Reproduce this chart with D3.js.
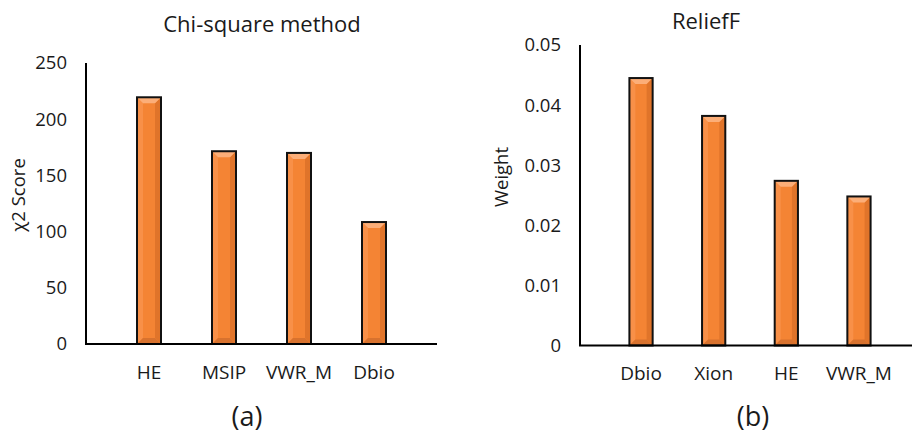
<!DOCTYPE html>
<html>
<head>
<meta charset="utf-8">
<script src="https://cdn.jsdelivr.net/npm/d3@7"></script>
<style>
  body { margin: 0; background: #fff; }
  svg { display: block; font-family: "Open Sans", sans-serif; }
</style>
</head>
<body>
<svg id="chart" width="912" height="433"></svg>
<script>
// chart (a): chi-square scores
const chiCategories = ["HE", "MSIP", "VWR_M", "Dbio"];
const chiValues = [219.5, 171.5, 170, 108.5];
const chiTicks = [0, 50, 100, 150, 200, 250];

// chart (b): ReliefF weights
const reliefCategories = ["Dbio", "Xion", "HE", "VWR_M"];
const reliefValues = [0.0445, 0.0382, 0.0274, 0.0248];
const reliefTicks = [0, 0.01, 0.02, 0.03, 0.04, 0.05];

const svg = d3.select("#chart");

const fill = "#f48434";
const textColor = "#1a1a1a";

function drawPanel({ categories, values, ticks, yMax, left, right, top, bottom,
                     title, titleX, titleY, yLabel, yLabelX, yLabelY, tag, tagX, fmt }) {
  const x = d3.scaleBand().domain(categories).range([left, right]).padding(0.68);
  const y = d3.scaleLinear().domain([0, yMax]).range([bottom, top]);
  const g = svg.append("g");

  // bars with a soft bevel look
  const bw = x.bandwidth();
  const inset = 6;
  categories.forEach((c, i) => {
    const x0 = x(c), x1 = x0 + bw;
    const y0 = y(values[i]), y1 = y(0);
    const bar = g.append("g");
    bar.append("rect")
      .attr("x", x0).attr("y", y0)
      .attr("width", bw).attr("height", y1 - y0)
      .attr("fill", fill);
    // right side shade
    bar.append("polygon")
      .attr("points", [[x1, y0], [x1 - inset, y0 + inset], [x1 - inset, y1 - inset], [x1, y1]].join(" "))
      .attr("fill", "#c8621e").attr("opacity", 0.45);
    // left side highlight
    bar.append("polygon")
      .attr("points", [[x0, y0], [x0 + inset, y0 + inset], [x0 + inset, y1 - inset], [x0, y1]].join(" "))
      .attr("fill", "#ffa266").attr("opacity", 0.4);
    // top highlight
    bar.append("polygon")
      .attr("points", [[x0, y0], [x1, y0], [x1 - inset, y0 + inset], [x0 + inset, y0 + inset]].join(" "))
      .attr("fill", "#fcae78");
    // bottom shade
    bar.append("polygon")
      .attr("points", [[x0, y1], [x1, y1], [x1 - inset, y1 - inset], [x0 + inset, y1 - inset]].join(" "))
      .attr("fill", "#d8722e");
    bar.append("rect")
      .attr("x", x0).attr("y", y0)
      .attr("width", bw).attr("height", y1 - y0)
      .attr("fill", "none").attr("stroke", "#111").attr("stroke-width", 2);
  });

  // axis lines
  g.append("line")
    .attr("x1", left).attr("x2", left).attr("y1", top).attr("y2", bottom)
    .attr("stroke", "#000").attr("stroke-width", 2);
  g.append("line")
    .attr("x1", left - 1).attr("x2", right).attr("y1", bottom).attr("y2", bottom)
    .attr("stroke", "#000").attr("stroke-width", 2);

  // y tick labels
  g.selectAll(".ytick").data(ticks).join("text")
    .attr("x", left - 19).attr("y", d => y(d))
    .attr("dy", "0.35em").attr("text-anchor", "end")
    .attr("font-size", 18.5).attr("fill", textColor)
    .text(fmt);

  // category labels
  g.selectAll(".xtick").data(categories).join("text")
    .attr("x", d => x(d) + bw / 2).attr("y", bottom + 28)
    .attr("dy", "0.35em").attr("text-anchor", "middle")
    .attr("font-size", 19).attr("fill", textColor)
    .text(d => d);

  g.append("text")
    .attr("x", titleX).attr("y", titleY).attr("dy", "0.35em")
    .attr("text-anchor", "middle").attr("font-size", 22).attr("fill", textColor)
    .text(title);

  g.append("text")
    .attr("transform", `translate(${yLabelX},${yLabelY}) rotate(-90)`)
    .attr("dy", "0.35em").attr("text-anchor", "middle")
    .attr("font-size", 18.5).attr("fill", textColor)
    .text(yLabel);

  g.append("text")
    .attr("x", tagX).attr("y", 417).attr("dy", "0.35em")
    .attr("text-anchor", "middle").attr("font-size", 27).attr("fill", textColor)
    .text(tag);
}

drawPanel({
  categories: chiCategories, values: chiValues, ticks: chiTicks, yMax: 250,
  left: 86, right: 437, top: 63, bottom: 344,
  title: "Chi-square method", titleX: 262, titleY: 24,
  yLabel: "χ2 Score", yLabelX: 19, yLabelY: 195, tag: "(a)", tagX: 247,
  fmt: d => d
});

drawPanel({
  categories: reliefCategories, values: reliefValues, ticks: reliefTicks, yMax: 0.05,
  left: 580, right: 920, top: 45, bottom: 345.5,
  title: "ReliefF", titleX: 706, titleY: 21,
  yLabel: "Weight", yLabelX: 502, yLabelY: 177, tag: "(b)", tagX: 753,
  fmt: d => d === 0 ? "0" : d3.format(".2f")(d)
});
</script>
</body>
</html>
